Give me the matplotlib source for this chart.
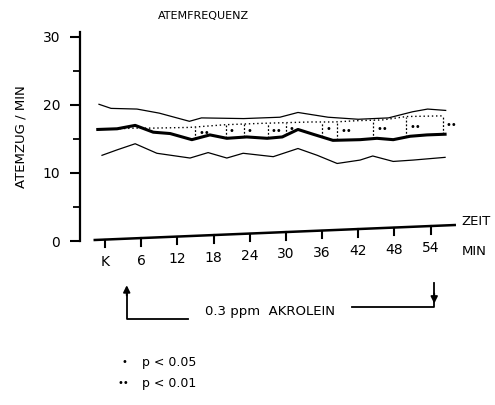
import numpy as np
import matplotlib
matplotlib.use('Agg')
import matplotlib.pyplot as plt

# upper band (thin line)
upper_t = [-1, 1, 5.3, 9, 14, 16, 23, 29, 32, 37, 42, 47, 51, 53.5, 56.5]
upper_v = [20.1, 19.5, 19.4, 18.8, 17.6, 18.1, 18.0, 18.2, 18.9, 18.2, 17.9, 18.1, 19.0, 19.4, 19.2]

# mean under akrolein (thick line)
mean_t = [-1.2, 2, 5, 8, 10.8, 14.4, 17.4, 20.2, 23.5, 26.9, 29.4, 32, 34.5, 37.8, 42.3, 45.1, 47.8, 50.6, 53.4, 56.4]
mean_v = [16.4, 16.5, 17.0, 16.0, 15.8, 14.9, 15.6, 15.1, 15.3, 15.1, 15.3, 16.4, 15.7, 14.8, 14.9, 15.1, 14.9, 15.4, 15.6, 15.7]

# control (dotted line)
ctrl_t = [-1, 5, 8, 14, 20, 26, 30, 34, 38, 42, 46, 50, 56]
ctrl_v = [16.4, 16.6, 16.6, 16.7, 17.1, 17.3, 17.4, 17.5, 17.5, 17.7, 17.8, 18.3, 18.4]

# lower band (thin line)
low_t = [-0.5, 2, 5, 8.6, 14.1, 17.1, 20.2, 22.9, 27.9, 32, 35.2, 38.5, 42.3, 44.4, 47.8, 51.1, 56.4]
low_v = [12.6, 13.4, 14.3, 12.9, 12.2, 13.0, 12.2, 12.9, 12.4, 13.6, 12.6, 11.4, 11.9, 12.5, 11.7, 11.9, 12.3]

# significant time points
sig_t = [15, 20, 23, 27, 30, 36, 38.5, 44.5, 50, 56]
sig_lab = ['**', '*', '*', '**', '*', '*', '**', '**', '**', '**']

xticks = [0, 6, 12, 18, 24, 30, 36, 42, 48, 54]
xtick_labels = ['K', '6', '12', '18', '24', '30', '36', '42', '48', '54']
yticks = [0, 10, 20, 30]

plt.rcParams['font.family'] = ['DejaVu Sans']

fig = plt.figure(figsize=(4.95, 4.05), dpi=100)
ax = fig.add_axes([0.161, 0.4049, 0.782, 0.5156])
ax.set_xlim(-4.2, 60)
ax.set_ylim(0, 30.7)

ax.plot(upper_t, upper_v, color='black', lw=0.9)
ax.plot(low_t, low_v, color='black', lw=0.9)
ax.plot(ctrl_t, ctrl_v, color='black', lw=1.0, ls=(0, (1, 2)))
ax.plot(mean_t, mean_v, color='black', lw=2.2)

# significance brackets
for t, lab in zip(sig_t, sig_lab):
    m = np.interp(t, mean_t, mean_v)
    c = np.interp(t, ctrl_t, ctrl_v)
    ax.plot([t, t], [m, c], color='black', lw=0.9, ls=(0, (1.5, 1.5)))
    ax.text(t + 0.5, (m + c) / 2, '•' * len(lab), fontsize=7, ha='left', va='center')

# y axis
for s in ['top', 'right', 'bottom']:
    ax.spines[s].set_visible(False)
ax.spines['left'].set_linewidth(1.6)
ax.set_yticks(yticks)
ax.set_yticks([5, 15, 25], minor=True)
ax.tick_params(axis='y', which='major', length=7, width=1.5, pad=7, labelsize=10)
ax.tick_params(axis='y', which='minor', length=5, width=1.3)
ax.set_xticks([])

# hand drawn, slightly slanted time axis
x0, x1 = -1.7, 58.0
y0, y1 = 0.15, 2.35
def axis_y(t):
    return y0 + (t - x0) * (y1 - y0) / (x1 - x0)

ax.plot([x0, x1], [y0, y1], color='black', lw=1.8, clip_on=False)
for t, lab in zip(xticks, xtick_labels):
    b = axis_y(t)
    ax.plot([t, t], [b, b - 1.1], color='black', lw=1.5, clip_on=False)
    ax.text(t, b - 3.3, lab, fontsize=10, ha='center', va='center', clip_on=False)

fig.text(0.933, 0.454, 'ZEIT', fontsize=9.5, ha='left', va='center')
fig.text(0.933, 0.380, 'MIN', fontsize=9.5, ha='left', va='center')

fig.text(203.5 / 495, 0.960, 'ATEMFREQUENZ', fontsize=8, ha='center', va='center')
fig.text(21 / 495, 0.663, 'ATEMZUG / MIN', fontsize=9.5, rotation=90, ha='center', va='center')

# exposure period
head = dict(arrowstyle='-|>', color='black', lw=1.3, mutation_scale=10, shrinkA=0, shrinkB=0)
ax.plot([3.6, 3.6, 13.7], [-7.5, -11.4, -11.4], color='black', lw=1.3, clip_on=False)
ax.annotate('', xy=(3.6, -6.5), xytext=(3.6, -8.0), annotation_clip=False, arrowprops=head)
ax.text(27.3, -10.3, '0.3 ppm  AKROLEIN', fontsize=9.5, ha='center', va='center')
ax.plot([41.0, 54.6, 54.6], [-9.7, -9.7, -6.2], color='black', lw=1.3, clip_on=False)
ax.annotate('', xy=(54.6, -9.2), xytext=(54.6, -7.7), annotation_clip=False, arrowprops=head)

# legend
ax.text(3.3, -17.8, '•', fontsize=7, ha='center', va='center')
ax.text(6.1, -17.8, 'p < 0.05', fontsize=9, ha='left', va='center')
ax.text(3.0, -20.9, '••', fontsize=7, ha='center', va='center')
ax.text(6.1, -20.9, 'p < 0.01', fontsize=9, ha='left', va='center')

fig.savefig('out.png', dpi=100)
